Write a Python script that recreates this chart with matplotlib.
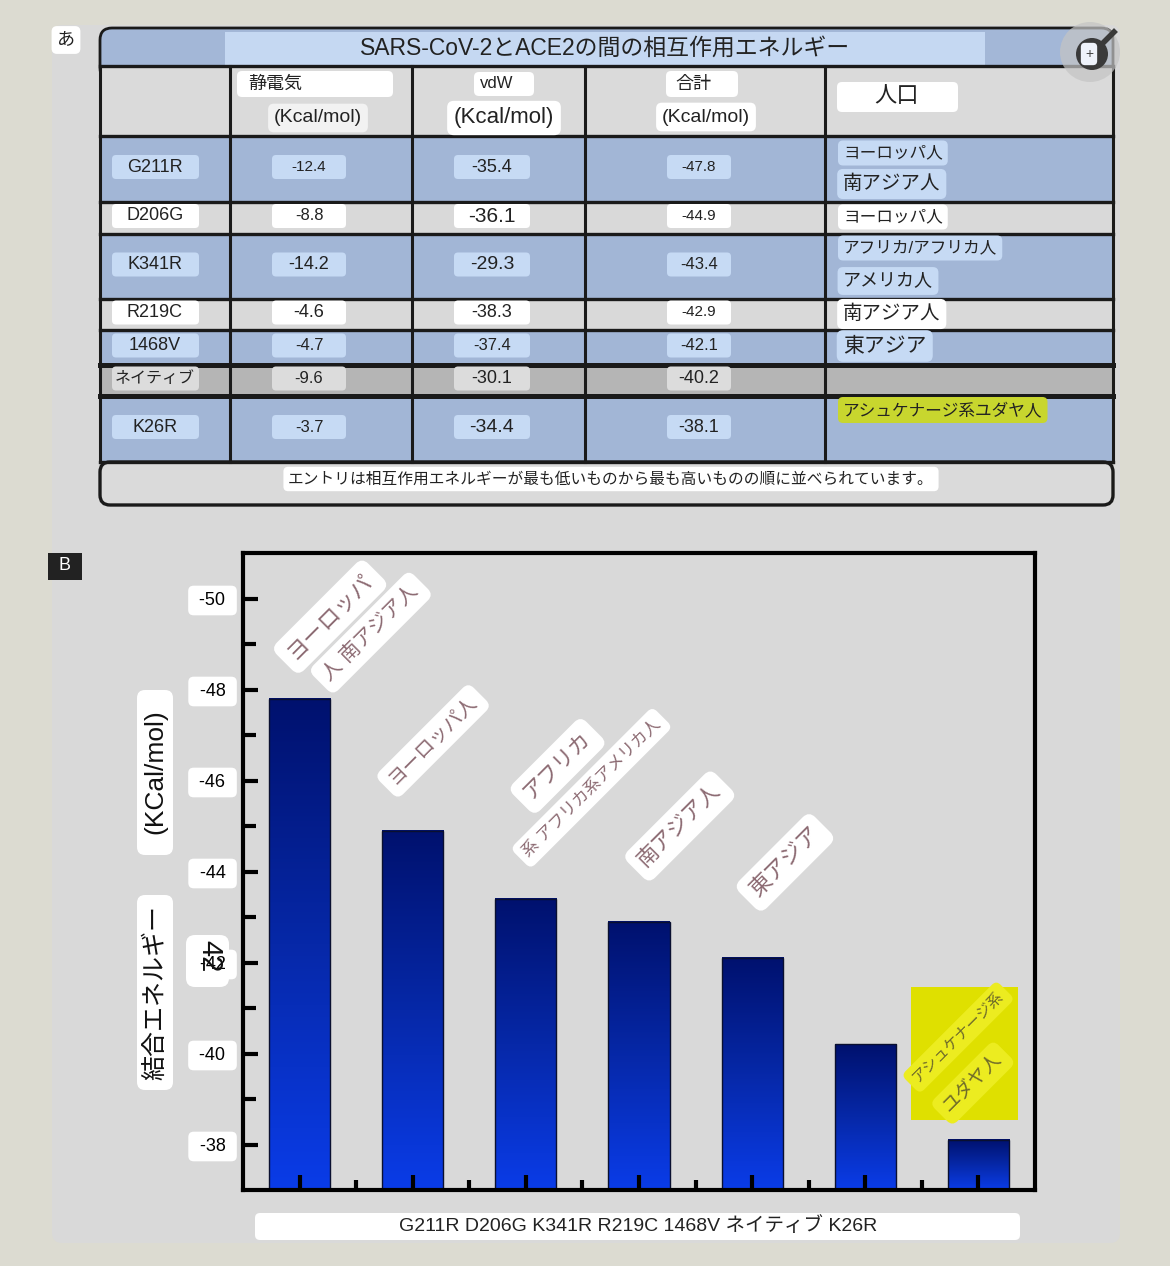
import numpy as np
import matplotlib
matplotlib.use('Agg')
import matplotlib.pyplot as plt
from matplotlib.patches import FancyBboxPatch, Rectangle, Circle
from matplotlib.colors import LinearSegmentedColormap
from matplotlib.ticker import FixedLocator

plt.rcParams['font.family'] = ['Liberation Sans', 'Noto Sans CJK JP']
plt.rcParams['axes.unicode_minus'] = False

# ---- data ----
mutations = ['G211R', 'D206G', 'K341R', 'R219C', '1468V', 'ネイティブ', 'K26R']
electrostatic = [-12.4, -8.8, -14.2, -4.6, -4.7, -9.6, -3.7]
vdw = [-35.4, -36.1, -29.3, -38.3, -37.4, -30.1, -34.4]
total = [-47.8, -44.9, -43.4, -42.9, -42.1, -40.2, -38.1]
populations = [['ヨーロッパ人', '南アジア人'], ['ヨーロッパ人'],
               ['アフリカ/アフリカ人', 'アメリカ人'], ['南アジア人'], ['東アジア'],
               [], ['アシュケナージ系ユダヤ人']]
bar_notes = [['ヨーロッパ', '人 南アジア人'], ['ヨーロッパ人'],
             ['アフリカ', '系 アフリカ系アメリカ人'], ['南アジア人'], ['東アジア'],
             [], ['アシュケナージ系', 'ユダヤ人']]
yticks = [-50, -48, -46, -44, -42, -40, -38]

title = 'SARS-CoV-2とACE2の間の相互作用エネルギー'
footnote = 'エントリは相互作用エネルギーが最も低いものから最も高いものの順に並べられています。'
xlabel = ' '.join(mutations)

# ---- layout (pixels) ----
row_top = [136, 202, 234, 299, 330, 365, 396]
row_bot = [202, 234, 299, 330, 365, 396, 462]
row_kind = ['blue', 'grey', 'blue', 'grey', 'blue', 'native', 'blue']
row_fill = {'blue': '#a2b6d6', 'grey': '#d9d9d9', 'native': '#b5b5b5'}
box_fill = {'blue': '#c6daf4', 'grey': 'white', 'native': '#dcdcdc'}
col_edges = [100, 230, 412, 585, 825, 1113]
val_x = [309, 492, 699]
val_w = [74, 76, 64]
pop_y = [[153, 184], [217], [248, 281], [314], [346], [], [410]]
pop_fs = [[12, 14], [12], [12, 13], [14], [15], [], [12]]
val_fs = [[11, 13, 11], [12, 15, 11], [13, 14, 12], [13, 13, 11], [12, 12, 12], [12, 13, 13], [12, 14, 13]]

fig = plt.figure(figsize=(11.7, 12.66), dpi=100, facecolor='#dcdbd1')
bg = fig.add_axes([0, 0, 1, 1])
bg.set_xlim(0, 1170)
bg.set_ylim(1266, 0)
bg.axis('off')


def rbox(x0, y0, x1, y1, fc, ec='none', lw=0, r=6, z=1):
    bg.add_patch(FancyBboxPatch((x0, y0), x1 - x0, y1 - y0,
                                boxstyle=f'round,pad=0,rounding_size={r}',
                                fc=fc, ec=ec, lw=lw, zorder=z))


def label(x, y, s, fs, fc='white', ha='center', color='#222222', z=5, **kw):
    bg.text(x, y, s, fontsize=fs, ha=ha, va='center', color=color, zorder=z,
            bbox=dict(boxstyle='round,pad=0.3,rounding_size=0.3', fc=fc, ec='none'), **kw)


# panel
rbox(52, 25, 1120, 1243, '#d9d9d9', r=10, z=0)

# ---- table ----
rbox(100, 28, 1113, 80, '#a3b7d7', ec='#1a1a1a', lw=2, r=12, z=1)
bg.add_patch(Rectangle((225, 32), 760, 34, fc='#c5d8f2', ec='none', zorder=2))
bg.text(605, 48, title, fontsize=16.5, ha='center', va='center', color='#222', zorder=3)
bg.add_patch(Rectangle((100, 66), 1013, 70, fc='#dadada', ec='none', zorder=2))
for i in range(len(mutations)):
    bg.add_patch(Rectangle((100, row_top[i]), 1013, row_bot[i] - row_top[i],
                           fc=row_fill[row_kind[i]], ec='none', zorder=2))
for xe in col_edges:
    bg.plot([xe, xe], [66, 462], color='#1a1a1a', lw=2.2, zorder=3)
for ye in [66] + row_top + [462]:
    lw = 3.6 if ye in (365, 396) else 2.4
    bg.plot([100, 1113], [ye, ye], color='#1a1a1a', lw=lw, zorder=3)
rbox(100, 462, 1113, 505, '#dadada', ec='#1a1a1a', lw=2.4, r=10, z=2)
label(611, 479, footnote, 11.3)

# header
rbox(237, 71, 393, 97, 'white', r=5, z=4)
bg.text(248, 84, '静電気', fontsize=13, ha='left', va='center', color='#222', zorder=5)
label(318, 118, '(Kcal/mol)', 14, fc='#f2f2f2')
rbox(474, 72, 534, 96, 'white', r=5, z=4)
bg.text(497, 84, 'vdW', fontsize=12, ha='center', va='center', color='#222', zorder=5)
label(504, 118, '(Kcal/mol)', 16)
rbox(666, 71, 738, 97, 'white', r=5, z=4)
bg.text(693, 84, '合計', fontsize=13, ha='center', va='center', color='#222', zorder=5)
label(706, 117, '(Kcal/mol)', 14)
rbox(837, 82, 958, 112, 'white', r=5, z=4)
bg.text(897, 97, '人口', fontsize=16, ha='center', va='center', color='#222', zorder=5)

# rows
for i, name in enumerate(mutations):
    yc = (row_top[i] + row_bot[i]) / 2 - 2
    fc = box_fill[row_kind[i]]
    rbox(112, yc - 12, 199, yc + 12, fc, r=4, z=4)
    bg.text(155, yc, name, fontsize=13 if i != 5 else 11.5, ha='center', va='center',
            color='#222', zorder=5)
    for j, v in enumerate([electrostatic[i], vdw[i], total[i]]):
        rbox(val_x[j] - val_w[j] / 2, yc - 12, val_x[j] + val_w[j] / 2, yc + 12, fc, r=4, z=4)
        bg.text(val_x[j], yc, f'{v:.1f}', fontsize=val_fs[i][j], ha='center', va='center',
                color='#222', zorder=5)
    for k, p in enumerate(populations[i]):
        pfc = '#c8d62e' if i == 6 else fc
        label(843, pop_y[i][k], p, pop_fs[i][k], fc=pfc, ha='left')

# magnifier icon
bg.add_patch(Circle((1090, 52), 30, fc='#c4c4c4', ec='none', alpha=0.7, zorder=6))
bg.add_patch(Circle((1092, 54), 16, fc='#3a3a3a', ec='none', zorder=7))
bg.plot([1103, 1114], [43, 32], color='#3a3a3a', lw=4, zorder=7)
label(1089, 54, '+', 10, fc='#eef2fa', z=8, color='#444')

# panel tags
label(66, 40, 'あ', 13)
bg.add_patch(Rectangle((48, 553), 34, 27, fc='#222222', ec='none', zorder=4))
bg.text(65, 566, 'B', fontsize=13, ha='center', va='center', color='white', zorder=5)

# axis titles of bar chart
rbox(137, 690, 173, 855, 'white', r=8, z=4)
bg.text(155, 772, '(KCal/mol)', fontsize=19, rotation=90, ha='center', va='center', color='#111', zorder=5)
rbox(137, 895, 173, 1090, 'white', r=8, z=4)
bg.text(155, 992, '結合エネルギー', fontsize=18, rotation=90, ha='center', va='center', color='#111', zorder=5)
rbox(255, 1213, 1020, 1240, 'white', r=5, z=4)
bg.text(638, 1226, xlabel, fontsize=14, ha='center', va='center', color='#222', zorder=5)
# white patch behind the garbled -42 label
rbox(186, 935, 229, 987, 'white', r=9, z=4)

# ---- bar chart ----
ax = fig.add_axes([243 / 1170, (1266 - 1190) / 1266, (1035 - 243) / 1170, (1190 - 553) / 1266])
ax.set_facecolor('#d9d9d9')
x = np.arange(len(mutations))
base = -37
bars = ax.bar(x, np.array(total) - base, bottom=base, width=0.54, color='none',
              edgecolor='#0a1030', lw=1, zorder=1.2)
cmap = LinearSegmentedColormap.from_list('barblue', ['#0a3ce8', '#0628a8', '#00116e'])
grad = np.linspace(0, 1, 256).reshape(-1, 1)
for b in bars:
    x0, y0, w, h = b.get_x(), b.get_y(), b.get_width(), b.get_height()
    ax.imshow(grad, cmap=cmap, extent=(x0, x0 + w, y0, y0 + h), origin='lower',
              aspect='auto', zorder=1)
ax.set_xlim(-0.5, 6.5)
ax.set_ylim(-37, -51)

ax.set_yticks(yticks, labels=[f' {v} ' for v in yticks])
ax.yaxis.set_minor_locator(FixedLocator([-49, -47, -45, -43, -41, -39]))
ax.set_xticks(x)
ax.set_xticks(x[:-1] + 0.5, minor=True)
ax.tick_params(axis='both', which='both', direction='in', width=3, color='black',
               right=False, top=False)
ax.tick_params(axis='y', which='major', length=11, pad=9, labelsize=13)
ax.tick_params(axis='y', which='minor', length=9)
ax.tick_params(axis='x', which='major', length=11, labelbottom=False)
ax.tick_params(axis='x', which='minor', length=7)
for sp in ax.spines.values():
    sp.set_linewidth(3)
    sp.set_color('black')
for lab in ax.get_yticklabels():
    lab.set_bbox(dict(boxstyle='round,pad=0.35,rounding_size=0.3', fc='white', ec='none'))

# population notes above bars
note_pos = [[(0.27, -49.6, 16), (0.63, -49.25, 14.5)], [(1.18, -46.87, 14)],
            [(2.28, -46.32, 15.5), (2.58, -45.84, 12)], [(3.36, -45.0, 15.5)],
            [(4.29, -44.2, 16)], [], [(5.82, -40.36, 11), (5.95, -39.35, 13.5)]]
ax.add_patch(Rectangle((5.40, -41.47), 0.95, 2.93, fc='#dfe000', ec='none', zorder=4))
for i, notes in enumerate(bar_notes):
    for s, (nx, ny, fs) in zip(notes, note_pos[i]):
        yellow = i == len(mutations) - 1
        ax.text(nx, ny, s, fontsize=fs, rotation=45, rotation_mode='anchor',
                ha='center', va='center', color='#6e6a2a' if yellow else '#8c6a72', zorder=5,
                bbox=dict(boxstyle='round,pad=0.4,rounding_size=0.4',
                          fc='#ecec20' if yellow else 'white', ec='none'))

# overlaid rotated glyphs on the -42 label
fig.text(209, 956, '42', transform=bg.transData, fontsize=21, rotation=-90,
         ha='center', va='center', color='#111', zorder=10)

fig.savefig('out.png', dpi=100, facecolor=fig.get_facecolor())
